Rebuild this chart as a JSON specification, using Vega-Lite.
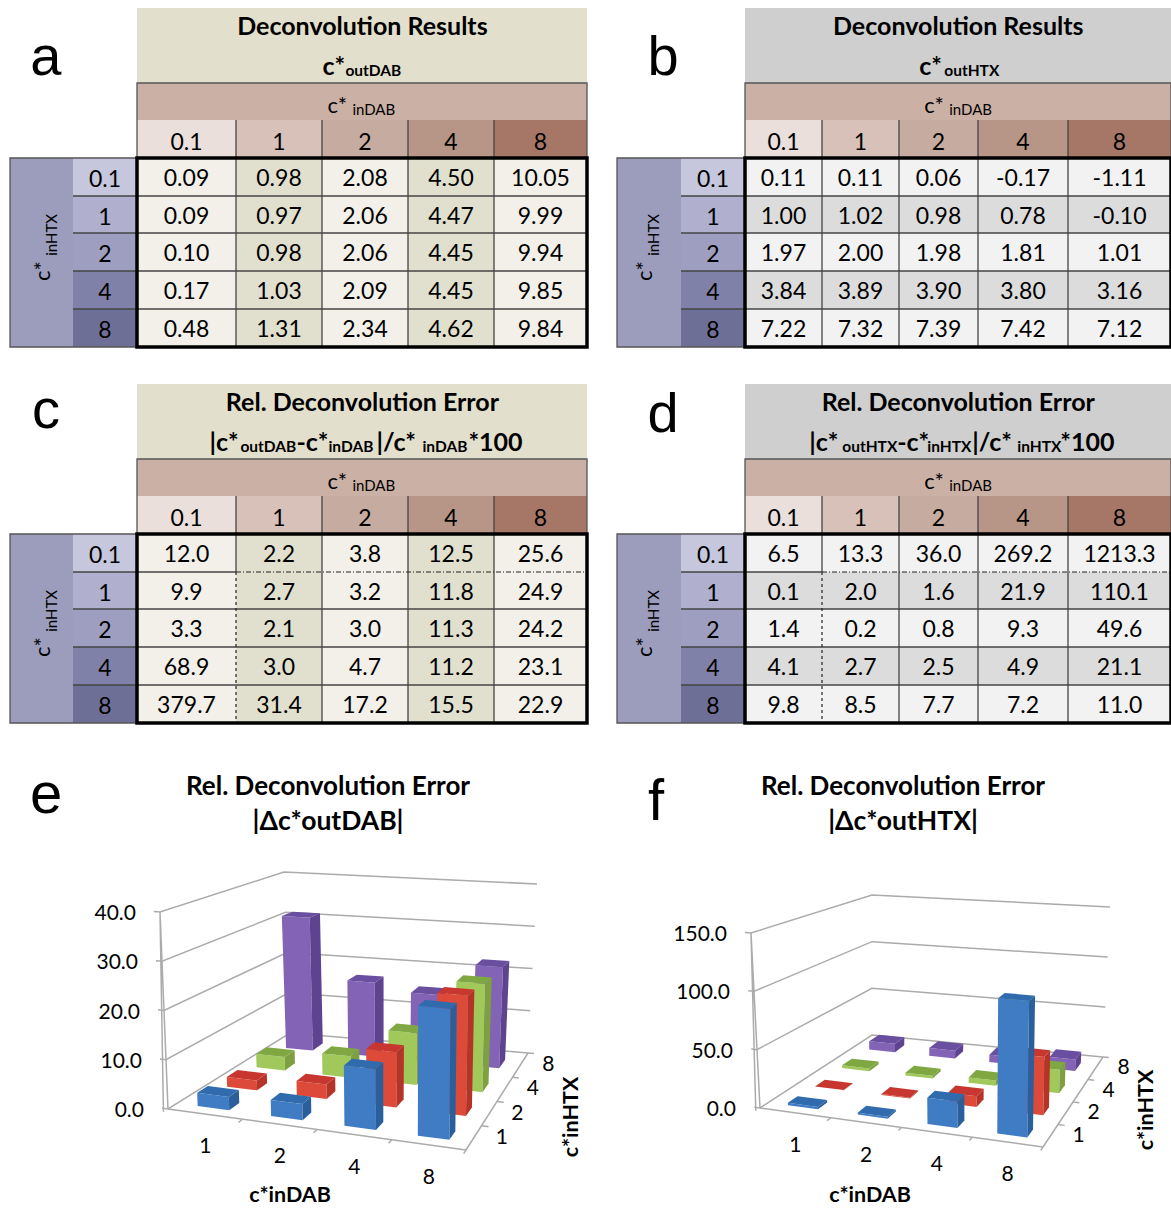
{
"$schema":"https://vega.github.io/schema/vega-lite/v6.json",
"padding":0,"background":"white","spacing":0,
"resolve":{"scale":{"color":"independent","fill":"independent"}},
"config":{"view":{"stroke":null},"axis":{"disable":true},"legend":{"disable":true},
"style":{
"num":{"font":"Lato","fontSize":23,"fill":"#333333","baseline":"middle","align":"center","dy":2},
"ttl":{"font":"Lato","fontWeight":"bold","fontSize":25,"fill":"#1a1a1a","baseline":"middle","align":"center"},
"cbig":{"font":"Lato","fontWeight":"bold","fontSize":25,"fill":"#1a1a1a","baseline":"middle","align":"left"},
"csub":{"font":"Lato","fontWeight":"bold","fontSize":15.5,"fill":"#1a1a1a","baseline":"middle","align":"left"},
"creg":{"font":"Lato","fontSize":22,"fill":"#444444","baseline":"middle","align":"left"},
"rsub":{"font":"Lato","fontSize":15,"fill":"#444444","baseline":"middle","align":"left"},
"letter":{"font":"Liberation Sans","fontSize":56,"fill":"#111111","baseline":"alphabetic","align":"center"},
"tick3":{"font":"Lato","fontSize":21,"fill":"#3a3a3a","baseline":"middle","align":"center"}
}},
"datasets":{
"levels":[{"level":"0.1","n":0},{"level":"1","n":1},{"level":"2","n":2},{"level":"4","n":3},{"level":"8","n":4}],
"cells":[
{"table":"a","inHTX":"0.1","inDAB":"0.1","value":0.09},{"table":"a","inHTX":"0.1","inDAB":"1","value":0.98},{"table":"a","inHTX":"0.1","inDAB":"2","value":2.08},{"table":"a","inHTX":"0.1","inDAB":"4","value":4.50},{"table":"a","inHTX":"0.1","inDAB":"8","value":10.05},
{"table":"a","inHTX":"1","inDAB":"0.1","value":0.09},{"table":"a","inHTX":"1","inDAB":"1","value":0.97},{"table":"a","inHTX":"1","inDAB":"2","value":2.06},{"table":"a","inHTX":"1","inDAB":"4","value":4.47},{"table":"a","inHTX":"1","inDAB":"8","value":9.99},
{"table":"a","inHTX":"2","inDAB":"0.1","value":0.10},{"table":"a","inHTX":"2","inDAB":"1","value":0.98},{"table":"a","inHTX":"2","inDAB":"2","value":2.06},{"table":"a","inHTX":"2","inDAB":"4","value":4.45},{"table":"a","inHTX":"2","inDAB":"8","value":9.94},
{"table":"a","inHTX":"4","inDAB":"0.1","value":0.17},{"table":"a","inHTX":"4","inDAB":"1","value":1.03},{"table":"a","inHTX":"4","inDAB":"2","value":2.09},{"table":"a","inHTX":"4","inDAB":"4","value":4.45},{"table":"a","inHTX":"4","inDAB":"8","value":9.85},
{"table":"a","inHTX":"8","inDAB":"0.1","value":0.48},{"table":"a","inHTX":"8","inDAB":"1","value":1.31},{"table":"a","inHTX":"8","inDAB":"2","value":2.34},{"table":"a","inHTX":"8","inDAB":"4","value":4.62},{"table":"a","inHTX":"8","inDAB":"8","value":9.84},
{"table":"b","inHTX":"0.1","inDAB":"0.1","value":0.11},{"table":"b","inHTX":"0.1","inDAB":"1","value":0.11},{"table":"b","inHTX":"0.1","inDAB":"2","value":0.06},{"table":"b","inHTX":"0.1","inDAB":"4","value":-0.17},{"table":"b","inHTX":"0.1","inDAB":"8","value":-1.11},
{"table":"b","inHTX":"1","inDAB":"0.1","value":1.00},{"table":"b","inHTX":"1","inDAB":"1","value":1.02},{"table":"b","inHTX":"1","inDAB":"2","value":0.98},{"table":"b","inHTX":"1","inDAB":"4","value":0.78},{"table":"b","inHTX":"1","inDAB":"8","value":-0.10},
{"table":"b","inHTX":"2","inDAB":"0.1","value":1.97},{"table":"b","inHTX":"2","inDAB":"1","value":2.00},{"table":"b","inHTX":"2","inDAB":"2","value":1.98},{"table":"b","inHTX":"2","inDAB":"4","value":1.81},{"table":"b","inHTX":"2","inDAB":"8","value":1.01},
{"table":"b","inHTX":"4","inDAB":"0.1","value":3.84},{"table":"b","inHTX":"4","inDAB":"1","value":3.89},{"table":"b","inHTX":"4","inDAB":"2","value":3.90},{"table":"b","inHTX":"4","inDAB":"4","value":3.80},{"table":"b","inHTX":"4","inDAB":"8","value":3.16},
{"table":"b","inHTX":"8","inDAB":"0.1","value":7.22},{"table":"b","inHTX":"8","inDAB":"1","value":7.32},{"table":"b","inHTX":"8","inDAB":"2","value":7.39},{"table":"b","inHTX":"8","inDAB":"4","value":7.42},{"table":"b","inHTX":"8","inDAB":"8","value":7.12},
{"table":"c","inHTX":"0.1","inDAB":"0.1","value":12.0},{"table":"c","inHTX":"0.1","inDAB":"1","value":2.2},{"table":"c","inHTX":"0.1","inDAB":"2","value":3.8},{"table":"c","inHTX":"0.1","inDAB":"4","value":12.5},{"table":"c","inHTX":"0.1","inDAB":"8","value":25.6},
{"table":"c","inHTX":"1","inDAB":"0.1","value":9.9},{"table":"c","inHTX":"1","inDAB":"1","value":2.7},{"table":"c","inHTX":"1","inDAB":"2","value":3.2},{"table":"c","inHTX":"1","inDAB":"4","value":11.8},{"table":"c","inHTX":"1","inDAB":"8","value":24.9},
{"table":"c","inHTX":"2","inDAB":"0.1","value":3.3},{"table":"c","inHTX":"2","inDAB":"1","value":2.1},{"table":"c","inHTX":"2","inDAB":"2","value":3.0},{"table":"c","inHTX":"2","inDAB":"4","value":11.3},{"table":"c","inHTX":"2","inDAB":"8","value":24.2},
{"table":"c","inHTX":"4","inDAB":"0.1","value":68.9},{"table":"c","inHTX":"4","inDAB":"1","value":3.0},{"table":"c","inHTX":"4","inDAB":"2","value":4.7},{"table":"c","inHTX":"4","inDAB":"4","value":11.2},{"table":"c","inHTX":"4","inDAB":"8","value":23.1},
{"table":"c","inHTX":"8","inDAB":"0.1","value":379.7},{"table":"c","inHTX":"8","inDAB":"1","value":31.4},{"table":"c","inHTX":"8","inDAB":"2","value":17.2},{"table":"c","inHTX":"8","inDAB":"4","value":15.5},{"table":"c","inHTX":"8","inDAB":"8","value":22.9},
{"table":"d","inHTX":"0.1","inDAB":"0.1","value":6.5},{"table":"d","inHTX":"0.1","inDAB":"1","value":13.3},{"table":"d","inHTX":"0.1","inDAB":"2","value":36.0},{"table":"d","inHTX":"0.1","inDAB":"4","value":269.2},{"table":"d","inHTX":"0.1","inDAB":"8","value":1213.3},
{"table":"d","inHTX":"1","inDAB":"0.1","value":0.1},{"table":"d","inHTX":"1","inDAB":"1","value":2.0},{"table":"d","inHTX":"1","inDAB":"2","value":1.6},{"table":"d","inHTX":"1","inDAB":"4","value":21.9},{"table":"d","inHTX":"1","inDAB":"8","value":110.1},
{"table":"d","inHTX":"2","inDAB":"0.1","value":1.4},{"table":"d","inHTX":"2","inDAB":"1","value":0.2},{"table":"d","inHTX":"2","inDAB":"2","value":0.8},{"table":"d","inHTX":"2","inDAB":"4","value":9.3},{"table":"d","inHTX":"2","inDAB":"8","value":49.6},
{"table":"d","inHTX":"4","inDAB":"0.1","value":4.1},{"table":"d","inHTX":"4","inDAB":"1","value":2.7},{"table":"d","inHTX":"4","inDAB":"2","value":2.5},{"table":"d","inHTX":"4","inDAB":"4","value":4.9},{"table":"d","inHTX":"4","inDAB":"8","value":21.1},
{"table":"d","inHTX":"8","inDAB":"0.1","value":9.8},{"table":"d","inHTX":"8","inDAB":"1","value":8.5},{"table":"d","inHTX":"8","inDAB":"2","value":7.7},{"table":"d","inHTX":"8","inDAB":"4","value":7.2},{"table":"d","inHTX":"8","inDAB":"8","value":11.0}
],
"chart3d":[
{"chart":"*","kind":"seg","u0":0,"v0":0,"h0":0,"u1":4,"v1":0,"h1":0},
{"chart":"*","kind":"seg","u0":4,"v0":0,"h0":0,"u1":4,"v1":4,"h1":0},
{"chart":"*","kind":"seg","u0":0,"v0":0,"h0":0,"u1":0,"v1":0,"h1":1},
{"chart":"*","kind":"seg","u0":0,"v0":0,"h0":0,"u1":0,"v1":-0.15,"h1":0},
{"chart":"*","kind":"seg","u0":1,"v0":0,"h0":0,"u1":1,"v1":-0.15,"h1":0},
{"chart":"*","kind":"seg","u0":2,"v0":0,"h0":0,"u1":2,"v1":-0.15,"h1":0},
{"chart":"*","kind":"seg","u0":3,"v0":0,"h0":0,"u1":3,"v1":-0.15,"h1":0},
{"chart":"*","kind":"seg","u0":4,"v0":0,"h0":0,"u1":4,"v1":-0.15,"h1":0},
{"chart":"*","kind":"seg","u0":4,"v0":1,"h0":0,"u1":4.1,"v1":1,"h1":0},
{"chart":"*","kind":"seg","u0":4,"v0":2,"h0":0,"u1":4.1,"v1":2,"h1":0},
{"chart":"*","kind":"seg","u0":4,"v0":3,"h0":0,"u1":4.1,"v1":3,"h1":0},
{"chart":"*","kind":"seg","u0":4,"v0":4,"h0":0,"u1":4.1,"v1":4,"h1":0},
{"chart":"*","kind":"labU","inDAB":"1"},{"chart":"*","kind":"labU","inDAB":"2"},{"chart":"*","kind":"labU","inDAB":"4"},{"chart":"*","kind":"labU","inDAB":"8"},
{"chart":"*","kind":"labV","inHTX":"1"},{"chart":"*","kind":"labV","inHTX":"2"},{"chart":"*","kind":"labV","inHTX":"4"},{"chart":"*","kind":"labV","inHTX":"8"},
{"chart":"e","kind":"level","value":0},{"chart":"e","kind":"level","value":10},{"chart":"e","kind":"level","value":20},{"chart":"e","kind":"level","value":30},{"chart":"e","kind":"level","value":40},
{"chart":"f","kind":"level","value":0},{"chart":"f","kind":"level","value":50},{"chart":"f","kind":"level","value":100},{"chart":"f","kind":"level","value":150},
{"chart":"e","kind":"bar","inHTX":"8","inDAB":"1","value":31.4},{"chart":"e","kind":"bar","inHTX":"8","inDAB":"2","value":17.2},{"chart":"e","kind":"bar","inHTX":"8","inDAB":"4","value":15.5},{"chart":"e","kind":"bar","inHTX":"8","inDAB":"8","value":22.9},
{"chart":"e","kind":"bar","inHTX":"4","inDAB":"1","value":3.0},{"chart":"e","kind":"bar","inHTX":"4","inDAB":"2","value":4.7},{"chart":"e","kind":"bar","inHTX":"4","inDAB":"4","value":11.2},{"chart":"e","kind":"bar","inHTX":"4","inDAB":"8","value":23.1},
{"chart":"e","kind":"bar","inHTX":"2","inDAB":"1","value":2.1},{"chart":"e","kind":"bar","inHTX":"2","inDAB":"2","value":3.0},{"chart":"e","kind":"bar","inHTX":"2","inDAB":"4","value":11.3},{"chart":"e","kind":"bar","inHTX":"2","inDAB":"8","value":24.2},
{"chart":"e","kind":"bar","inHTX":"1","inDAB":"1","value":2.7},{"chart":"e","kind":"bar","inHTX":"1","inDAB":"2","value":3.2},{"chart":"e","kind":"bar","inHTX":"1","inDAB":"4","value":11.8},{"chart":"e","kind":"bar","inHTX":"1","inDAB":"8","value":24.9},
{"chart":"f","kind":"bar","inHTX":"8","inDAB":"1","value":8.5},{"chart":"f","kind":"bar","inHTX":"8","inDAB":"2","value":7.7},{"chart":"f","kind":"bar","inHTX":"8","inDAB":"4","value":7.2},{"chart":"f","kind":"bar","inHTX":"8","inDAB":"8","value":11.0},
{"chart":"f","kind":"bar","inHTX":"4","inDAB":"1","value":2.7},{"chart":"f","kind":"bar","inHTX":"4","inDAB":"2","value":2.5},{"chart":"f","kind":"bar","inHTX":"4","inDAB":"4","value":4.9},{"chart":"f","kind":"bar","inHTX":"4","inDAB":"8","value":21.1},
{"chart":"f","kind":"bar","inHTX":"2","inDAB":"1","value":0.2},{"chart":"f","kind":"bar","inHTX":"2","inDAB":"2","value":0.8},{"chart":"f","kind":"bar","inHTX":"2","inDAB":"4","value":9.3},{"chart":"f","kind":"bar","inHTX":"2","inDAB":"8","value":49.6},
{"chart":"f","kind":"bar","inHTX":"1","inDAB":"1","value":2.0},{"chart":"f","kind":"bar","inHTX":"1","inDAB":"2","value":1.6},{"chart":"f","kind":"bar","inHTX":"1","inDAB":"4","value":21.9},{"chart":"f","kind":"bar","inHTX":"1","inDAB":"8","value":110.1}
]
},
"vconcat":[
{"spacing":0,"bounds":"flush","resolve":{"scale":{"color":"independent","fill":"independent"}},"hconcat":[
{"width":617,"height":376,"data":{"values":[{}]},"layer":[
{"mark":{"type":"rect","fill":"#E3DFCD"},"encoding":{"x":{"datum":2,"scale":{"domain":[0,1,2,3,4,5,6,7],"range":[10,73,137,236,322,408,494,587],"zero":false,"nice":false}},"x2":{"datum":7},"y":{"datum":0,"scale":{"domain":[0,1,2,3,4,5,6,7,8],"range":[8,83,120,158,196,233,271,309,347],"zero":false,"nice":false}},"y2":{"datum":1}}},
{"mark":{"type":"rect","fill":"#CBB0A6"},"encoding":{"x":{"datum":2},"x2":{"datum":7},"y":{"datum":1},"y2":{"datum":2}}},
{"mark":{"type":"rect","fill":"#9C9CBC"},"encoding":{"x":{"datum":0},"x2":{"datum":1},"y":{"datum":3},"y2":{"datum":8}}},
{"mark":{"type":"rect","fill":"#F2F0E9"},"encoding":{"x":{"datum":2},"x2":{"datum":7},"y":{"datum":3},"y2":{"datum":8}}},
{"data":{"name":"levels"},"transform":[{"filter":"datum.n==1||datum.n==3"},{"calculate":"datum.n+2","as":"x0"},{"calculate":"datum.n+3","as":"x1"}],"mark":{"type":"rect","fill":"#E1E0CF"},"encoding":{"x":{"field":"x0","type":"quantitative"},"x2":{"field":"x1"},"y":{"datum":3},"y2":{"datum":8}}},
{"data":{"name":"levels"},"transform":[{"calculate":"datum.n+2","as":"x0"},{"calculate":"datum.n+3","as":"x1"}],"mark":"rect","encoding":{"x":{"field":"x0","type":"quantitative"},"x2":{"field":"x1"},"y":{"datum":2},"y2":{"datum":3},"color":{"field":"level","type":"nominal","scale":{"domain":["0.1","1","2","4","8"],"range":["#EADFDA","#D8C1B9","#C6ABA0","#B79587","#A67767"]}}}},
{"data":{"name":"levels"},"transform":[{"calculate":"datum.n+3","as":"y0"},{"calculate":"datum.n+4","as":"y1"}],"mark":"rect","encoding":{"x":{"datum":1},"x2":{"datum":2},"y":{"field":"y0","type":"quantitative"},"y2":{"field":"y1"},"fill":{"field":"level","type":"nominal","scale":{"domain":["0.1","1","2","4","8"],"range":["#C6C7DC","#B0B0CE","#9D9EC0","#8081A8","#6E6F97"]}}}},
{"data":{"name":"levels"},"transform":[{"filter":"datum.n<4"},{"calculate":"datum.n+3","as":"p"}],"mark":{"type":"rule","stroke":"#444444","strokeWidth":1.3},"encoding":{"x":{"field":"p","type":"quantitative"},"y":{"datum":2},"y2":{"datum":8}}},
{"data":{"name":"levels"},"transform":[{"filter":"datum.n<4"},{"calculate":"datum.n+4","as":"p"}],"mark":{"type":"rule","stroke":"#444444","strokeWidth":1.3},"encoding":{"y":{"field":"p","type":"quantitative"},"x":{"datum":1},"x2":{"datum":7}}},
{"mark":{"type":"rect","filled":false,"stroke":"#555555","strokeWidth":1.3},"encoding":{"x":{"datum":2},"x2":{"datum":7},"y":{"datum":1},"y2":{"datum":3}}},
{"mark":{"type":"rect","filled":false,"stroke":"#555555","strokeWidth":1.3},"encoding":{"x":{"datum":0},"x2":{"datum":2},"y":{"datum":3},"y2":{"datum":8}}},
{"mark":{"type":"rect","filled":false,"stroke":"#000000","strokeWidth":3.5},"encoding":{"x":{"datum":2},"x2":{"datum":7},"y":{"datum":3},"y2":{"datum":8}}},
{"data":{"name":"cells"},"transform":[{"filter":"datum.table=='a'"},{"calculate":"indexof(['0.1','1','2','4','8'],datum.inDAB)+2.5","as":"xc"},{"calculate":"indexof(['0.1','1','2','4','8'],datum.inHTX)+3.5","as":"yc"},{"calculate":"replace(format(datum.value,'.2f'),'\u2212','-')","as":"label"}],"mark":{"type":"text","style":"num"},"encoding":{"x":{"field":"xc","type":"quantitative"},"y":{"field":"yc","type":"quantitative"},"text":{"field":"label"}}},
{"data":{"name":"levels"},"transform":[{"calculate":"datum.n+2.5","as":"xc"}],"mark":{"type":"text","style":"num","dy":4},"encoding":{"x":{"field":"xc","type":"quantitative"},"y":{"datum":2.5},"text":{"field":"level"}}},
{"data":{"name":"levels"},"transform":[{"calculate":"datum.n+3.5","as":"yc"}],"mark":{"type":"text","style":"num","dy":3},"encoding":{"x":{"datum":1.5},"y":{"field":"yc","type":"quantitative"},"text":{"field":"level"}}},
{"mark":{"type":"text","style":"letter","text":"a"},"encoding":{"x":{"datum":0.57},"y":{"datum":0.893}}},
{"mark":{"type":"text","style":"ttl","text":"Deconvolution Results"},"encoding":{"x":{"datum":4.47},"y":{"datum":0.25}}},
{"mark":{"type":"text","style":"cbig","text":"c*","dx":-40},"encoding":{"x":{"datum":4.47},"y":{"datum":0.79}}},
{"mark":{"type":"text","style":"csub","text":"outDAB","dx":-17,"dy":4},"encoding":{"x":{"datum":4.47},"y":{"datum":0.79}}},
{"mark":{"type":"text","style":"creg","text":"c*","dx":-35},"encoding":{"x":{"datum":4.47},"y":{"datum":1.62}}},
{"mark":{"type":"text","style":"rsub","text":"inDAB","dx":-10,"dy":4},"encoding":{"x":{"datum":4.47},"y":{"datum":1.62}}},
{"mark":{"type":"text","style":"creg","text":"c*","angle":270},"encoding":{"x":{"datum":0.52},"y":{"datum":6.26}}},
{"mark":{"type":"text","style":"rsub","text":"inHTX","angle":270},"encoding":{"x":{"datum":0.66},"y":{"datum":5.6}}}
]},
{"width":554,"height":376,"data":{"values":[{}]},"layer":[
{"mark":{"type":"rect","fill":"#CFCFCF"},"encoding":{"x":{"datum":2,"scale":{"domain":[0,1,2,3,4,5,6,7],"range":[0,64,128,205,282,361,451,554],"zero":false,"nice":false}},"x2":{"datum":7},"y":{"datum":0,"scale":{"domain":[0,1,2,3,4,5,6,7,8],"range":[8,83,120,158,196,233,271,309,347],"zero":false,"nice":false}},"y2":{"datum":1}}},
{"mark":{"type":"rect","fill":"#CBB0A6"},"encoding":{"x":{"datum":2},"x2":{"datum":7},"y":{"datum":1},"y2":{"datum":2}}},
{"mark":{"type":"rect","fill":"#9C9CBC"},"encoding":{"x":{"datum":0},"x2":{"datum":1},"y":{"datum":3},"y2":{"datum":8}}},
{"mark":{"type":"rect","fill":"#F2F2F2"},"encoding":{"x":{"datum":2},"x2":{"datum":7},"y":{"datum":3},"y2":{"datum":8}}},
{"data":{"name":"levels"},"transform":[{"filter":"datum.n==1||datum.n==3"},{"calculate":"datum.n+3","as":"y0"},{"calculate":"datum.n+4","as":"y1"}],"mark":{"type":"rect","fill":"#DCDCDC"},"encoding":{"x":{"datum":2},"x2":{"datum":7},"y":{"field":"y0","type":"quantitative"},"y2":{"field":"y1"}}},
{"data":{"name":"levels"},"transform":[{"calculate":"datum.n+2","as":"x0"},{"calculate":"datum.n+3","as":"x1"}],"mark":"rect","encoding":{"x":{"field":"x0","type":"quantitative"},"x2":{"field":"x1"},"y":{"datum":2},"y2":{"datum":3},"color":{"field":"level","type":"nominal","scale":{"domain":["0.1","1","2","4","8"],"range":["#EADFDA","#D8C1B9","#C6ABA0","#B79587","#A67767"]}}}},
{"data":{"name":"levels"},"transform":[{"calculate":"datum.n+3","as":"y0"},{"calculate":"datum.n+4","as":"y1"}],"mark":"rect","encoding":{"x":{"datum":1},"x2":{"datum":2},"y":{"field":"y0","type":"quantitative"},"y2":{"field":"y1"},"fill":{"field":"level","type":"nominal","scale":{"domain":["0.1","1","2","4","8"],"range":["#C6C7DC","#B0B0CE","#9D9EC0","#8081A8","#6E6F97"]}}}},
{"data":{"name":"levels"},"transform":[{"filter":"datum.n<4"},{"calculate":"datum.n+3","as":"p"}],"mark":{"type":"rule","stroke":"#444444","strokeWidth":1.3},"encoding":{"x":{"field":"p","type":"quantitative"},"y":{"datum":2},"y2":{"datum":8}}},
{"data":{"name":"levels"},"transform":[{"filter":"datum.n<4"},{"calculate":"datum.n+4","as":"p"}],"mark":{"type":"rule","stroke":"#444444","strokeWidth":1.3},"encoding":{"y":{"field":"p","type":"quantitative"},"x":{"datum":1},"x2":{"datum":7}}},
{"mark":{"type":"rect","filled":false,"stroke":"#555555","strokeWidth":1.3},"encoding":{"x":{"datum":2},"x2":{"datum":7},"y":{"datum":1},"y2":{"datum":3}}},
{"mark":{"type":"rect","filled":false,"stroke":"#555555","strokeWidth":1.3},"encoding":{"x":{"datum":0},"x2":{"datum":2},"y":{"datum":3},"y2":{"datum":8}}},
{"mark":{"type":"rect","filled":false,"stroke":"#000000","strokeWidth":3.5},"encoding":{"x":{"datum":2},"x2":{"datum":7},"y":{"datum":3},"y2":{"datum":8}}},
{"data":{"name":"cells"},"transform":[{"filter":"datum.table=='b'"},{"calculate":"indexof(['0.1','1','2','4','8'],datum.inDAB)+2.5","as":"xc"},{"calculate":"indexof(['0.1','1','2','4','8'],datum.inHTX)+3.5","as":"yc"},{"calculate":"replace(format(datum.value,'.2f'),'\u2212','-')","as":"label"}],"mark":{"type":"text","style":"num"},"encoding":{"x":{"field":"xc","type":"quantitative"},"y":{"field":"yc","type":"quantitative"},"text":{"field":"label"}}},
{"data":{"name":"levels"},"transform":[{"calculate":"datum.n+2.5","as":"xc"}],"mark":{"type":"text","style":"num","dy":4},"encoding":{"x":{"field":"xc","type":"quantitative"},"y":{"datum":2.5},"text":{"field":"level"}}},
{"data":{"name":"levels"},"transform":[{"calculate":"datum.n+3.5","as":"yc"}],"mark":{"type":"text","style":"num","dy":3},"encoding":{"x":{"datum":1.5},"y":{"field":"yc","type":"quantitative"},"text":{"field":"level"}}},
{"mark":{"type":"text","style":"letter","text":"b"},"encoding":{"x":{"datum":0.72},"y":{"datum":0.893}}},
{"mark":{"type":"text","style":"ttl","text":"Deconvolution Results"},"encoding":{"x":{"datum":4.75},"y":{"datum":0.25}}},
{"mark":{"type":"text","style":"cbig","text":"c*","dx":-39},"encoding":{"x":{"datum":4.75},"y":{"datum":0.79}}},
{"mark":{"type":"text","style":"csub","text":"outHTX","dx":-14,"dy":4},"encoding":{"x":{"datum":4.75},"y":{"datum":0.79}}},
{"mark":{"type":"text","style":"creg","text":"c*","dx":-34},"encoding":{"x":{"datum":4.75},"y":{"datum":1.62}}},
{"mark":{"type":"text","style":"rsub","text":"inDAB","dx":-9,"dy":4},"encoding":{"x":{"datum":4.75},"y":{"datum":1.62}}},
{"mark":{"type":"text","style":"creg","text":"c*","angle":270},"encoding":{"x":{"datum":0.44},"y":{"datum":6.26}}},
{"mark":{"type":"text","style":"rsub","text":"inHTX","angle":270},"encoding":{"x":{"datum":0.58},"y":{"datum":5.6}}}
]}
]},
{"spacing":0,"bounds":"flush","resolve":{"scale":{"color":"independent","fill":"independent"}},"hconcat":[
{"width":617,"height":374,"data":{"values":[{}]},"layer":[
{"mark":{"type":"rect","fill":"#E3DFCD"},"encoding":{"x":{"datum":2,"scale":{"domain":[0,1,2,3,4,5,6,7],"range":[10,73,137,236,322,408,494,587],"zero":false,"nice":false}},"x2":{"datum":7},"y":{"datum":0,"scale":{"domain":[0,1,2,3,4,5,6,7,8],"range":[8,83,120,158,196,233,271,309,347],"zero":false,"nice":false}},"y2":{"datum":1}}},
{"mark":{"type":"rect","fill":"#CBB0A6"},"encoding":{"x":{"datum":2},"x2":{"datum":7},"y":{"datum":1},"y2":{"datum":2}}},
{"mark":{"type":"rect","fill":"#9C9CBC"},"encoding":{"x":{"datum":0},"x2":{"datum":1},"y":{"datum":3},"y2":{"datum":8}}},
{"mark":{"type":"rect","fill":"#F2F0E9"},"encoding":{"x":{"datum":2},"x2":{"datum":7},"y":{"datum":3},"y2":{"datum":8}}},
{"data":{"name":"levels"},"transform":[{"filter":"datum.n==1||datum.n==3"},{"calculate":"datum.n+2","as":"x0"},{"calculate":"datum.n+3","as":"x1"}],"mark":{"type":"rect","fill":"#E1E0CF"},"encoding":{"x":{"field":"x0","type":"quantitative"},"x2":{"field":"x1"},"y":{"datum":3},"y2":{"datum":8}}},
{"data":{"name":"levels"},"transform":[{"calculate":"datum.n+2","as":"x0"},{"calculate":"datum.n+3","as":"x1"}],"mark":"rect","encoding":{"x":{"field":"x0","type":"quantitative"},"x2":{"field":"x1"},"y":{"datum":2},"y2":{"datum":3},"color":{"field":"level","type":"nominal","scale":{"domain":["0.1","1","2","4","8"],"range":["#EADFDA","#D8C1B9","#C6ABA0","#B79587","#A67767"]}}}},
{"data":{"name":"levels"},"transform":[{"calculate":"datum.n+3","as":"y0"},{"calculate":"datum.n+4","as":"y1"}],"mark":"rect","encoding":{"x":{"datum":1},"x2":{"datum":2},"y":{"field":"y0","type":"quantitative"},"y2":{"field":"y1"},"fill":{"field":"level","type":"nominal","scale":{"domain":["0.1","1","2","4","8"],"range":["#C6C7DC","#B0B0CE","#9D9EC0","#8081A8","#6E6F97"]}}}},
{"data":{"name":"levels"},"transform":[{"filter":"datum.n>=1&&datum.n<4"},{"calculate":"datum.n+3","as":"p"}],"mark":{"type":"rule","stroke":"#444444","strokeWidth":1.3},"encoding":{"x":{"field":"p","type":"quantitative"},"y":{"datum":2},"y2":{"datum":8}}},
{"data":{"name":"levels"},"transform":[{"filter":"datum.n>=1&&datum.n<4"},{"calculate":"datum.n+4","as":"p"}],"mark":{"type":"rule","stroke":"#444444","strokeWidth":1.3},"encoding":{"y":{"field":"p","type":"quantitative"},"x":{"datum":1},"x2":{"datum":7}}},
{"mark":{"type":"rule","stroke":"#444444","strokeWidth":1.3},"encoding":{"x":{"datum":3},"y":{"datum":2},"y2":{"datum":4}}},
{"mark":{"type":"rule","stroke":"#222222","strokeWidth":1.2,"strokeDash":[3,3]},"encoding":{"x":{"datum":3},"y":{"datum":4},"y2":{"datum":8}}},
{"mark":{"type":"rule","stroke":"#444444","strokeWidth":1.3},"encoding":{"y":{"datum":4},"x":{"datum":1},"x2":{"datum":3}}},
{"mark":{"type":"rule","stroke":"#222222","strokeWidth":1.2,"strokeDash":[5,2,1,2]},"encoding":{"y":{"datum":4},"x":{"datum":3},"x2":{"datum":7}}},
{"mark":{"type":"rect","filled":false,"stroke":"#555555","strokeWidth":1.3},"encoding":{"x":{"datum":2},"x2":{"datum":7},"y":{"datum":1},"y2":{"datum":3}}},
{"mark":{"type":"rect","filled":false,"stroke":"#555555","strokeWidth":1.3},"encoding":{"x":{"datum":0},"x2":{"datum":2},"y":{"datum":3},"y2":{"datum":8}}},
{"mark":{"type":"rect","filled":false,"stroke":"#000000","strokeWidth":3.5},"encoding":{"x":{"datum":2},"x2":{"datum":7},"y":{"datum":3},"y2":{"datum":8}}},
{"data":{"name":"cells"},"transform":[{"filter":"datum.table=='c'"},{"calculate":"indexof(['0.1','1','2','4','8'],datum.inDAB)+2.5","as":"xc"},{"calculate":"indexof(['0.1','1','2','4','8'],datum.inHTX)+3.5","as":"yc"},{"calculate":"format(datum.value,'.1f')","as":"label"}],"mark":{"type":"text","style":"num"},"encoding":{"x":{"field":"xc","type":"quantitative"},"y":{"field":"yc","type":"quantitative"},"text":{"field":"label"}}},
{"data":{"name":"levels"},"transform":[{"calculate":"datum.n+2.5","as":"xc"}],"mark":{"type":"text","style":"num","dy":4},"encoding":{"x":{"field":"xc","type":"quantitative"},"y":{"datum":2.5},"text":{"field":"level"}}},
{"data":{"name":"levels"},"transform":[{"calculate":"datum.n+3.5","as":"yc"}],"mark":{"type":"text","style":"num","dy":3},"encoding":{"x":{"datum":1.5},"y":{"field":"yc","type":"quantitative"},"text":{"field":"level"}}},
{"mark":{"type":"text","style":"letter","text":"c"},"encoding":{"x":{"datum":0.57},"y":{"datum":0.59}}},
{"mark":{"type":"text","style":"ttl","text":"Rel. Deconvolution Error"},"encoding":{"x":{"datum":4.47},"y":{"datum":0.25}}},
{"mark":{"type":"text","style":"cbig","text":"|c*","dx":-153},"encoding":{"x":{"datum":4.47},"y":{"datum":0.79}}},
{"mark":{"type":"text","style":"csub","text":"outDAB","dx":-122,"dy":4},"encoding":{"x":{"datum":4.47},"y":{"datum":0.79}}},
{"mark":{"type":"text","style":"cbig","text":"-c*","dx":-66},"encoding":{"x":{"datum":4.47},"y":{"datum":0.79}}},
{"mark":{"type":"text","style":"csub","text":"inDAB","dx":-34,"dy":4},"encoding":{"x":{"datum":4.47},"y":{"datum":0.79}}},
{"mark":{"type":"text","style":"cbig","text":"|/c*","dx":14},"encoding":{"x":{"datum":4.47},"y":{"datum":0.79}}},
{"mark":{"type":"text","style":"csub","text":"inDAB","dx":60,"dy":4},"encoding":{"x":{"datum":4.47},"y":{"datum":0.79}}},
{"mark":{"type":"text","style":"cbig","text":"*100","dx":106},"encoding":{"x":{"datum":4.47},"y":{"datum":0.79}}},
{"mark":{"type":"text","style":"creg","text":"c*","dx":-35},"encoding":{"x":{"datum":4.47},"y":{"datum":1.62}}},
{"mark":{"type":"text","style":"rsub","text":"inDAB","dx":-10,"dy":4},"encoding":{"x":{"datum":4.47},"y":{"datum":1.62}}},
{"mark":{"type":"text","style":"creg","text":"c*","angle":270},"encoding":{"x":{"datum":0.52},"y":{"datum":6.26}}},
{"mark":{"type":"text","style":"rsub","text":"inHTX","angle":270},"encoding":{"x":{"datum":0.66},"y":{"datum":5.6}}}
]},
{"width":554,"height":374,"data":{"values":[{}]},"layer":[
{"mark":{"type":"rect","fill":"#CFCFCF"},"encoding":{"x":{"datum":2,"scale":{"domain":[0,1,2,3,4,5,6,7],"range":[0,64,128,205,282,361,451,554],"zero":false,"nice":false}},"x2":{"datum":7},"y":{"datum":0,"scale":{"domain":[0,1,2,3,4,5,6,7,8],"range":[8,83,120,158,196,233,271,309,347],"zero":false,"nice":false}},"y2":{"datum":1}}},
{"mark":{"type":"rect","fill":"#CBB0A6"},"encoding":{"x":{"datum":2},"x2":{"datum":7},"y":{"datum":1},"y2":{"datum":2}}},
{"mark":{"type":"rect","fill":"#9C9CBC"},"encoding":{"x":{"datum":0},"x2":{"datum":1},"y":{"datum":3},"y2":{"datum":8}}},
{"mark":{"type":"rect","fill":"#F2F2F2"},"encoding":{"x":{"datum":2},"x2":{"datum":7},"y":{"datum":3},"y2":{"datum":8}}},
{"data":{"name":"levels"},"transform":[{"filter":"datum.n==1||datum.n==3"},{"calculate":"datum.n+3","as":"y0"},{"calculate":"datum.n+4","as":"y1"}],"mark":{"type":"rect","fill":"#DCDCDC"},"encoding":{"x":{"datum":2},"x2":{"datum":7},"y":{"field":"y0","type":"quantitative"},"y2":{"field":"y1"}}},
{"data":{"name":"levels"},"transform":[{"calculate":"datum.n+2","as":"x0"},{"calculate":"datum.n+3","as":"x1"}],"mark":"rect","encoding":{"x":{"field":"x0","type":"quantitative"},"x2":{"field":"x1"},"y":{"datum":2},"y2":{"datum":3},"color":{"field":"level","type":"nominal","scale":{"domain":["0.1","1","2","4","8"],"range":["#EADFDA","#D8C1B9","#C6ABA0","#B79587","#A67767"]}}}},
{"data":{"name":"levels"},"transform":[{"calculate":"datum.n+3","as":"y0"},{"calculate":"datum.n+4","as":"y1"}],"mark":"rect","encoding":{"x":{"datum":1},"x2":{"datum":2},"y":{"field":"y0","type":"quantitative"},"y2":{"field":"y1"},"fill":{"field":"level","type":"nominal","scale":{"domain":["0.1","1","2","4","8"],"range":["#C6C7DC","#B0B0CE","#9D9EC0","#8081A8","#6E6F97"]}}}},
{"data":{"name":"levels"},"transform":[{"filter":"datum.n>=1&&datum.n<4"},{"calculate":"datum.n+3","as":"p"}],"mark":{"type":"rule","stroke":"#444444","strokeWidth":1.3},"encoding":{"x":{"field":"p","type":"quantitative"},"y":{"datum":2},"y2":{"datum":8}}},
{"data":{"name":"levels"},"transform":[{"filter":"datum.n>=1&&datum.n<4"},{"calculate":"datum.n+4","as":"p"}],"mark":{"type":"rule","stroke":"#444444","strokeWidth":1.3},"encoding":{"y":{"field":"p","type":"quantitative"},"x":{"datum":1},"x2":{"datum":7}}},
{"mark":{"type":"rule","stroke":"#444444","strokeWidth":1.3},"encoding":{"x":{"datum":3},"y":{"datum":2},"y2":{"datum":4}}},
{"mark":{"type":"rule","stroke":"#222222","strokeWidth":1.2,"strokeDash":[3,3]},"encoding":{"x":{"datum":3},"y":{"datum":4},"y2":{"datum":8}}},
{"mark":{"type":"rule","stroke":"#444444","strokeWidth":1.3},"encoding":{"y":{"datum":4},"x":{"datum":1},"x2":{"datum":3}}},
{"mark":{"type":"rule","stroke":"#222222","strokeWidth":1.2,"strokeDash":[5,2,1,2]},"encoding":{"y":{"datum":4},"x":{"datum":3},"x2":{"datum":7}}},
{"mark":{"type":"rect","filled":false,"stroke":"#555555","strokeWidth":1.3},"encoding":{"x":{"datum":2},"x2":{"datum":7},"y":{"datum":1},"y2":{"datum":3}}},
{"mark":{"type":"rect","filled":false,"stroke":"#555555","strokeWidth":1.3},"encoding":{"x":{"datum":0},"x2":{"datum":2},"y":{"datum":3},"y2":{"datum":8}}},
{"mark":{"type":"rect","filled":false,"stroke":"#000000","strokeWidth":3.5},"encoding":{"x":{"datum":2},"x2":{"datum":7},"y":{"datum":3},"y2":{"datum":8}}},
{"data":{"name":"cells"},"transform":[{"filter":"datum.table=='d'"},{"calculate":"indexof(['0.1','1','2','4','8'],datum.inDAB)+2.5","as":"xc"},{"calculate":"indexof(['0.1','1','2','4','8'],datum.inHTX)+3.5","as":"yc"},{"calculate":"format(datum.value,'.1f')","as":"label"}],"mark":{"type":"text","style":"num"},"encoding":{"x":{"field":"xc","type":"quantitative"},"y":{"field":"yc","type":"quantitative"},"text":{"field":"label"}}},
{"data":{"name":"levels"},"transform":[{"calculate":"datum.n+2.5","as":"xc"}],"mark":{"type":"text","style":"num","dy":4},"encoding":{"x":{"field":"xc","type":"quantitative"},"y":{"datum":2.5},"text":{"field":"level"}}},
{"data":{"name":"levels"},"transform":[{"calculate":"datum.n+3.5","as":"yc"}],"mark":{"type":"text","style":"num","dy":3},"encoding":{"x":{"datum":1.5},"y":{"field":"yc","type":"quantitative"},"text":{"field":"level"}}},
{"mark":{"type":"text","style":"letter","text":"d"},"encoding":{"x":{"datum":0.72},"y":{"datum":0.64}}},
{"mark":{"type":"text","style":"ttl","text":"Rel. Deconvolution Error"},"encoding":{"x":{"datum":4.75},"y":{"datum":0.25}}},
{"mark":{"type":"text","style":"cbig","text":"|c*","dx":-149},"encoding":{"x":{"datum":4.75},"y":{"datum":0.79}}},
{"mark":{"type":"text","style":"csub","text":"outHTX","dx":-116,"dy":4},"encoding":{"x":{"datum":4.75},"y":{"datum":0.79}}},
{"mark":{"type":"text","style":"cbig","text":"-c*","dx":-61},"encoding":{"x":{"datum":4.75},"y":{"datum":0.79}}},
{"mark":{"type":"text","style":"csub","text":"inHTX","dx":-31,"dy":4},"encoding":{"x":{"datum":4.75},"y":{"datum":0.79}}},
{"mark":{"type":"text","style":"cbig","text":"|/c*","dx":14},"encoding":{"x":{"datum":4.75},"y":{"datum":0.79}}},
{"mark":{"type":"text","style":"csub","text":"inHTX","dx":59,"dy":4},"encoding":{"x":{"datum":4.75},"y":{"datum":0.79}}},
{"mark":{"type":"text","style":"cbig","text":"*100","dx":102},"encoding":{"x":{"datum":4.75},"y":{"datum":0.79}}},
{"mark":{"type":"text","style":"creg","text":"c*","dx":-34},"encoding":{"x":{"datum":4.75},"y":{"datum":1.62}}},
{"mark":{"type":"text","style":"rsub","text":"inDAB","dx":-9,"dy":4},"encoding":{"x":{"datum":4.75},"y":{"datum":1.62}}},
{"mark":{"type":"text","style":"creg","text":"c*","angle":270},"encoding":{"x":{"datum":0.44},"y":{"datum":6.26}}},
{"mark":{"type":"text","style":"rsub","text":"inHTX","angle":270},"encoding":{"x":{"datum":0.58},"y":{"datum":5.6}}}
]}
]},
{"spacing":0,"bounds":"flush","resolve":{"scale":{"color":"independent","fill":"independent"}},"hconcat":[
{"width":617,"height":459,"data":{"name":"chart3d"},
"transform":[
{"filter":"datum.chart=='e'||datum.chart=='*'"},
{"calculate":"datum.kind=='bar'?[0,1,2,3,4,5,6,7,8,9,10,11]:datum.kind=='level'?[0,1,2,3]:datum.kind=='seg'?[0,1]:[0]","as":"seq"},
{"flatten":["seq"]},
{"calculate":"indexof(['1','2','4','8'],datum.inDAB)","as":"i"},
{"calculate":"indexof(['1','2','4','8'],datum.inHTX)","as":"j"},
{"calculate":"floor(datum.seq/4)","as":"face"},
{"calculate":"datum.seq%4","as":"k"},
{"calculate":"datum.kind=='bar'?(datum.i+0.28+0.43*((datum.face==1||datum.k==1||datum.k==2)?1:0)):datum.kind=='level'?(datum.seq==0?-0.08:datum.seq==3?4:0):datum.kind=='seg'?(datum.u0+(datum.u1-datum.u0)*datum.seq):datum.kind=='labU'?datum.i+0.5:4","as":"U"},
{"calculate":"datum.kind=='bar'?(datum.j+0.3+0.36*(datum.face==0?0:datum.face==1?((datum.k==1||datum.k==2)?1:0):(datum.k>=2?1:0))):datum.kind=='level'?(datum.seq<=1?0:4):datum.kind=='seg'?(datum.v0+(datum.v1-datum.v0)*datum.seq):datum.kind=='labU'?0:datum.j+0.5","as":"V"},
{"calculate":"datum.kind=='bar'?((datum.face==2||datum.k>=2)?datum.value/40:0):datum.kind=='level'?datum.value/40:datum.kind=='seg'?(datum.h0+(datum.h1-datum.h0)*datum.seq):0","as":"H"},
{"calculate":"(1-datum.U/4)*(1-datum.V/4)","as":"wa"},{"calculate":"(datum.U/4)*(1-datum.V/4)","as":"wb"},{"calculate":"(datum.U/4)*(datum.V/4)","as":"wc"},{"calculate":"(1-datum.U/4)*(datum.V/4)","as":"wd"},
{"calculate":"(1-datum.H)*(datum.wa*168+datum.wb*466+datum.wc*528+datum.wd*290)+datum.H*(datum.wa*160+datum.wb*468+datum.wc*537+datum.wd*284)","as":"px"},
{"calculate":"(1-datum.H)*(datum.wa*359+datum.wb*400+datum.wc*303+datum.wd*283)+datum.H*(datum.wa*162+datum.wb*185+datum.wc*134+datum.wd*122)","as":"py"},
{"calculate":"datum.kind+'_'+datum.chart+'_'+datum.value+'_'+datum.u0+'_'+datum.v0+'_'+datum.u1+'_'+datum.i+'_'+datum.j+'_'+datum.face","as":"id"},
{"calculate":"datum.inHTX+'-'+datum.face","as":"shade"}
],
"layer":[
{"transform":[{"filter":"datum.kind=='level'||datum.kind=='seg'"}],"mark":{"type":"line","stroke":"#ABABAB","strokeWidth":1.5},"encoding":{"x":{"field":"px","type":"quantitative","scale":{"domain":[0,617],"range":[0,617],"zero":false,"nice":false}},"y":{"field":"py","type":"quantitative","scale":{"domain":[0,459],"range":[0,459],"zero":false,"nice":false}},"detail":{"field":"id"},"order":{"field":"seq"}}},
{"transform":[{"filter":"datum.kind=='bar'"}],"mark":{"type":"line","interpolate":"linear-closed","filled":true,"strokeWidth":0},"encoding":{"x":{"field":"px","type":"quantitative"},"y":{"field":"py","type":"quantitative"},"detail":{"field":"id"},"order":{"field":"k"},"color":{"field":"shade","type":"nominal","scale":{"domain":["1-0","1-1","1-2","2-0","2-1","2-2","4-0","4-1","4-2","8-0","8-1","8-2"],"range":["#3F7CC4","#2B5F9B","#2F6BAD","#DE4A3A","#B5342A","#C8372F","#A0C85A","#7EA040","#7FA843","#8263B5","#5D4390","#6A4FA0"]}}}},
{"transform":[{"filter":"datum.kind=='level'&&datum.seq==1"},{"calculate":"format(datum.value,'.1f')","as":"label"}],"mark":{"type":"text","style":"tick3","align":"right","dx":-24,"dy":2},"encoding":{"x":{"field":"px","type":"quantitative"},"y":{"field":"py","type":"quantitative"},"text":{"field":"label"}}},
{"transform":[{"filter":"datum.kind=='labU'"}],"mark":{"type":"text","style":"tick3","dy":33},"encoding":{"x":{"field":"px","type":"quantitative"},"y":{"field":"py","type":"quantitative"},"text":{"field":"inDAB"}}},
{"transform":[{"filter":"datum.kind=='labV'"}],"mark":{"type":"text","style":"tick3","dx":28},"encoding":{"x":{"field":"px","type":"quantitative"},"y":{"field":"py","type":"quantitative"},"text":{"field":"inHTX"}}},
{"data":{"values":[{}]},"transform":[],"mark":{"type":"text","style":"letter","text":"e","fontSize":58},"encoding":{"x":{"datum":46},"y":{"datum":63}}},
{"data":{"values":[{}]},"transform":[],"mark":{"type":"text","style":"ttl","text":"Rel. Deconvolution Error","fontSize":26},"encoding":{"x":{"datum":328},"y":{"datum":37}}},
{"data":{"values":[{}]},"transform":[],"mark":{"type":"text","style":"ttl","text":"|\u0394c*outDAB|","fontSize":26.5},"encoding":{"x":{"datum":328},"y":{"datum":72}}},
{"data":{"values":[{}]},"transform":[],"mark":{"type":"text","style":"ttl","text":"c*inDAB","fontSize":21.5},"encoding":{"x":{"datum":290},"y":{"datum":446}}},
{"data":{"values":[{}]},"transform":[],"mark":{"type":"text","style":"ttl","text":"c*inHTX","fontSize":21.5,"angle":270},"encoding":{"x":{"datum":572},"y":{"datum":367}}}
]},
{"width":554,"height":459,"data":{"name":"chart3d"},
"transform":[
{"filter":"datum.chart=='f'||datum.chart=='*'"},
{"calculate":"datum.kind=='bar'?[0,1,2,3,4,5,6,7,8,9,10,11]:datum.kind=='level'?[0,1,2,3]:datum.kind=='seg'?[0,1]:[0]","as":"seq"},
{"flatten":["seq"]},
{"calculate":"indexof(['1','2','4','8'],datum.inDAB)","as":"i"},
{"calculate":"indexof(['1','2','4','8'],datum.inHTX)","as":"j"},
{"calculate":"floor(datum.seq/4)","as":"face"},
{"calculate":"datum.seq%4","as":"k"},
{"calculate":"datum.kind=='bar'?(datum.i+0.28+0.43*((datum.face==1||datum.k==1||datum.k==2)?1:0)):datum.kind=='level'?(datum.seq==0?-0.08:datum.seq==3?4:0):datum.kind=='seg'?(datum.u0+(datum.u1-datum.u0)*datum.seq):datum.kind=='labU'?datum.i+0.5:4","as":"U"},
{"calculate":"datum.kind=='bar'?(datum.j+0.3+0.36*(datum.face==0?0:datum.face==1?((datum.k==1||datum.k==2)?1:0):(datum.k>=2?1:0))):datum.kind=='level'?(datum.seq<=1?0:4):datum.kind=='seg'?(datum.v0+(datum.v1-datum.v0)*datum.seq):datum.kind=='labU'?0:datum.j+0.5","as":"V"},
{"calculate":"datum.kind=='bar'?((datum.face==2||datum.k>=2)?datum.value/150:0):datum.kind=='level'?datum.value/150:datum.kind=='seg'?(datum.h0+(datum.h1-datum.h0)*datum.seq):0","as":"H"},
{"calculate":"(1-datum.U/4)*(1-datum.V/4)","as":"wa"},{"calculate":"(datum.U/4)*(1-datum.V/4)","as":"wb"},{"calculate":"(datum.U/4)*(datum.V/4)","as":"wc"},{"calculate":"(1-datum.U/4)*(datum.V/4)","as":"wd"},
{"calculate":"(1-datum.H)*(datum.wa*143+datum.wb*426+datum.wc*486+datum.wd*255)+datum.H*(datum.wa*134+datum.wb*429+datum.wc*493+datum.wd*255)","as":"px"},
{"calculate":"(1-datum.H)*(datum.wa*358+datum.wb*397+datum.wc*307+datum.wd*285)+datum.H*(datum.wa*183+datum.wb*207+datum.wc*157+datum.wd*145)","as":"py"},
{"calculate":"datum.kind+'_'+datum.chart+'_'+datum.value+'_'+datum.u0+'_'+datum.v0+'_'+datum.u1+'_'+datum.i+'_'+datum.j+'_'+datum.face","as":"id"},
{"calculate":"datum.inHTX+'-'+datum.face","as":"shade"}
],
"layer":[
{"transform":[{"filter":"datum.kind=='level'||datum.kind=='seg'"}],"mark":{"type":"line","stroke":"#ABABAB","strokeWidth":1.5},"encoding":{"x":{"field":"px","type":"quantitative","scale":{"domain":[0,554],"range":[0,554],"zero":false,"nice":false}},"y":{"field":"py","type":"quantitative","scale":{"domain":[0,459],"range":[0,459],"zero":false,"nice":false}},"detail":{"field":"id"},"order":{"field":"seq"}}},
{"transform":[{"filter":"datum.kind=='bar'"}],"mark":{"type":"line","interpolate":"linear-closed","filled":true,"strokeWidth":0},"encoding":{"x":{"field":"px","type":"quantitative"},"y":{"field":"py","type":"quantitative"},"detail":{"field":"id"},"order":{"field":"k"},"color":{"field":"shade","type":"nominal","scale":{"domain":["1-0","1-1","1-2","2-0","2-1","2-2","4-0","4-1","4-2","8-0","8-1","8-2"],"range":["#3F7CC4","#2B5F9B","#2F6BAD","#DE4A3A","#B5342A","#C8372F","#A0C85A","#7EA040","#7FA843","#8263B5","#5D4390","#6A4FA0"]}}}},
{"transform":[{"filter":"datum.kind=='level'&&datum.seq==1"},{"calculate":"format(datum.value,'.1f')","as":"label"}],"mark":{"type":"text","style":"tick3","align":"right","dx":-24,"dy":2},"encoding":{"x":{"field":"px","type":"quantitative"},"y":{"field":"py","type":"quantitative"},"text":{"field":"label"}}},
{"transform":[{"filter":"datum.kind=='labU'"}],"mark":{"type":"text","style":"tick3","dy":33},"encoding":{"x":{"field":"px","type":"quantitative"},"y":{"field":"py","type":"quantitative"},"text":{"field":"inDAB"}}},
{"transform":[{"filter":"datum.kind=='labV'"}],"mark":{"type":"text","style":"tick3","dx":28},"encoding":{"x":{"field":"px","type":"quantitative"},"y":{"field":"py","type":"quantitative"},"text":{"field":"inHTX"}}},
{"data":{"values":[{}]},"transform":[],"mark":{"type":"text","style":"letter","text":"f","fontSize":58},"encoding":{"x":{"datum":39},"y":{"datum":70}}},
{"data":{"values":[{}]},"transform":[],"mark":{"type":"text","style":"ttl","text":"Rel. Deconvolution Error","fontSize":26},"encoding":{"x":{"datum":286},"y":{"datum":37}}},
{"data":{"values":[{}]},"transform":[],"mark":{"type":"text","style":"ttl","text":"|\u0394c*outHTX|","fontSize":26.5},"encoding":{"x":{"datum":286},"y":{"datum":72}}},
{"data":{"values":[{}]},"transform":[],"mark":{"type":"text","style":"ttl","text":"c*inDAB","fontSize":21.5},"encoding":{"x":{"datum":253},"y":{"datum":446}}},
{"data":{"values":[{}]},"transform":[],"mark":{"type":"text","style":"ttl","text":"c*inHTX","fontSize":21.5,"angle":270},"encoding":{"x":{"datum":530},"y":{"datum":360}}}
]}
]}
]
}
